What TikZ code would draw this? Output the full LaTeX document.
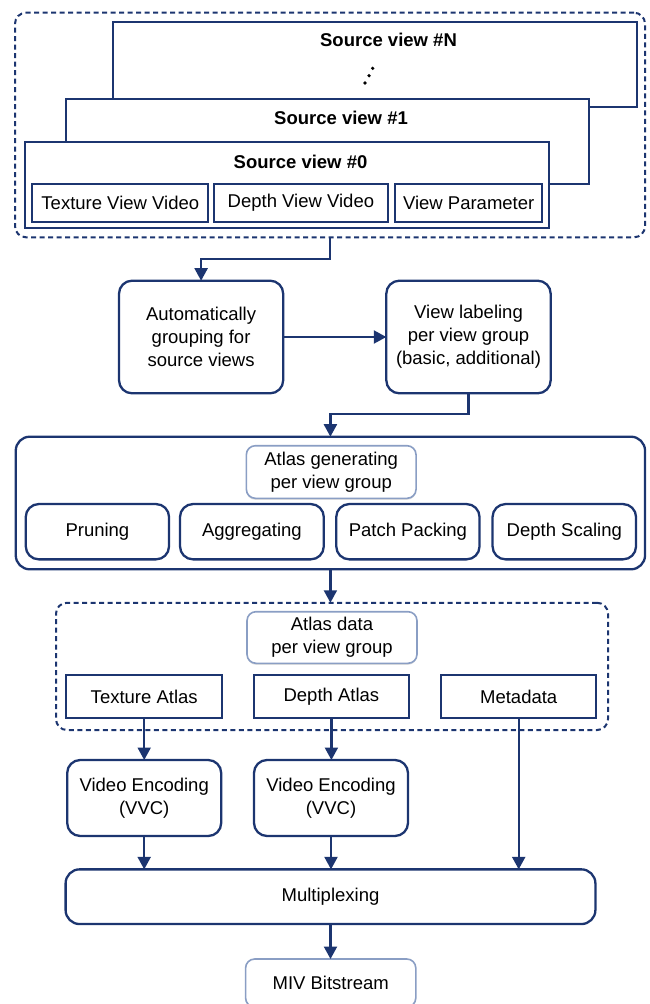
\documentclass[tikz,border=0pt]{standalone}
\usepackage{fontspec}
\setmainfont{Liberation Sans}
\usetikzlibrary{arrows.meta,shadows}
\definecolor{navy}{RGB}{28,53,112}
\definecolor{softedge}{RGB}{138,158,196}

\begin{document}
\begin{tikzpicture}[x=1pt,y=-1pt,
  every node/.style={font=\fontsize{18.5}{23}\selectfont, inner sep=0pt, outer sep=0pt},
  frame/.style={draw=navy, line width=2pt, fill=white},
  rbox/.style={draw=navy, line width=2.3pt, fill=white, rounded corners=13pt, align=center},
  dbox/.style={draw=navy, line width=2pt, dash pattern=on 5pt off 3.5pt, rounded corners=11pt},
  lbox/.style={draw=softedge, line width=1.6pt, fill=white, rounded corners=9pt, align=center,
    drop shadow={shadow xshift=0pt, shadow yshift=-1.5pt, opacity=0.25}},
  title/.style={font=\fontsize{18.5}{23}\selectfont\bfseries},
  arr/.style={draw=navy, line width=2.2pt, -{Triangle[length=12.5pt,width=13pt]}}
]
\useasboundingbox (0,0) rectangle (649,1004);
\clip (0,0) rectangle (649,1004);

% ---- stacked source views ----
\node[dbox, minimum width=630pt, minimum height=224.6pt] (srcdash) at (330,125) {};
\node[frame, minimum width=523.4pt, minimum height=85pt] (svN) at (375,64.2) {};
\node[title] (svNt) at (388.5,40) {Source view \#N};
\fill[black] (365,83) circle (1.8pt) (369,75.7) circle (1.8pt) (372.7,68.3) circle (1.8pt);
\node[frame, minimum width=523pt, minimum height=85pt] (sv1) at (327.5,141.8) {};
\node[title] (sv1t) at (341,118) {Source view \#1};
\node[frame, minimum width=524pt, minimum height=86.6pt] (sv0) at (287,185) {};
\node[title] (sv0t) at (300.5,162) {Source view \#0};
\node[frame, minimum width=176pt, minimum height=37.4pt] (tvv) at (120.3,203) {Texture View Video};
\node[frame, minimum width=174.8pt, minimum height=37.4pt] (dvv) at (300.9,203) {Depth View Video};
\node[frame, minimum width=147.3pt, minimum height=37.4pt] (vp) at (468.7,203) {View Parameter};

% ---- grouping and labeling ----
\node[rbox, minimum width=164.2pt, minimum height=112.6pt] (grp) at (201.1,337) {Automatically\\grouping for\\source views};
\node[rbox, minimum width=164.4pt, minimum height=112.6pt] (lab) at (468.5,337) {View labeling\\per view group\\(basic, additional)};

% ---- atlas generation ----
\node[rbox, rounded corners=14pt, minimum width=629.3pt, minimum height=132.6pt] (atlasgen) at (330.4,503) {};
\node[lbox, minimum width=169.7pt, minimum height=52.6pt] (aglabel) at (331.2,472) {Atlas generating\\per view group};
\node[rbox, minimum width=143.3pt, minimum height=55.3pt] (prune) at (97.4,531.7) {Pruning};
\node[rbox, minimum width=143.8pt, minimum height=55.3pt] (aggr) at (251.9,531.7) {Aggregating};
\node[rbox, minimum width=143.3pt, minimum height=55.3pt] (patch) at (407.9,531.7) {Patch Packing};
\node[rbox, minimum width=143.5pt, minimum height=55.3pt] (dscale) at (564.3,531.7) {Depth Scaling};

% ---- atlas data ----
\node[dbox, minimum width=552pt, minimum height=127.3pt] (atlasdata) at (332,666.4) {};
\node[lbox, minimum width=170pt, minimum height=51.6pt] (adlabel) at (332,637.5) {Atlas data\\per view group};
\node[frame, minimum width=155.6pt, minimum height=43.3pt] (tatlas) at (144.2,696.7) {Texture Atlas};
\node[frame, minimum width=154.7pt, minimum height=43.3pt] (datlas) at (331.4,696.7) {Depth Atlas};
\node[frame, minimum width=155.3pt, minimum height=43.3pt] (meta) at (518.7,696.7) {Metadata};

% ---- encoding and multiplexing ----
\node[rbox, minimum width=154pt, minimum height=76pt] (ve1) at (144.2,798) {Video Encoding\\(VVC)};
\node[rbox, minimum width=154pt, minimum height=76pt] (ve2) at (331,798) {Video Encoding\\(VVC)};
\node[rbox, rounded corners=14pt, minimum width=529.8pt, minimum height=54.7pt] (mux) at (330.5,896.7) {Multiplexing};
\node[lbox, minimum width=170.2pt, minimum height=48pt] (miv) at (330.7,983) {MIV Bitstream};

% ---- connectors ----
\draw[arr] (srcdash.south) -- ++(0,22) -| (grp.north);
\draw[arr] (grp.east) -- (lab.west);
\draw[arr] (lab.south) -- ++(0,20.7) -| (atlasgen.north);
\draw[arr] (atlasgen.south) -- (atlasgen.south |- atlasdata.north);
\draw[arr] (tatlas.south) -- (ve1.north);
\draw[arr] (datlas.south) -- (datlas.south |- ve2.north);
\draw[arr] (meta.south) -- (meta.south |- mux.north);
\draw[arr] (ve1.south) -- (ve1.south |- mux.north);
\draw[arr] (ve2.south) -- (ve2.south |- mux.north);
\draw[arr] (mux.south) -- (mux.south |- miv.north);
\end{tikzpicture}
\end{document}
